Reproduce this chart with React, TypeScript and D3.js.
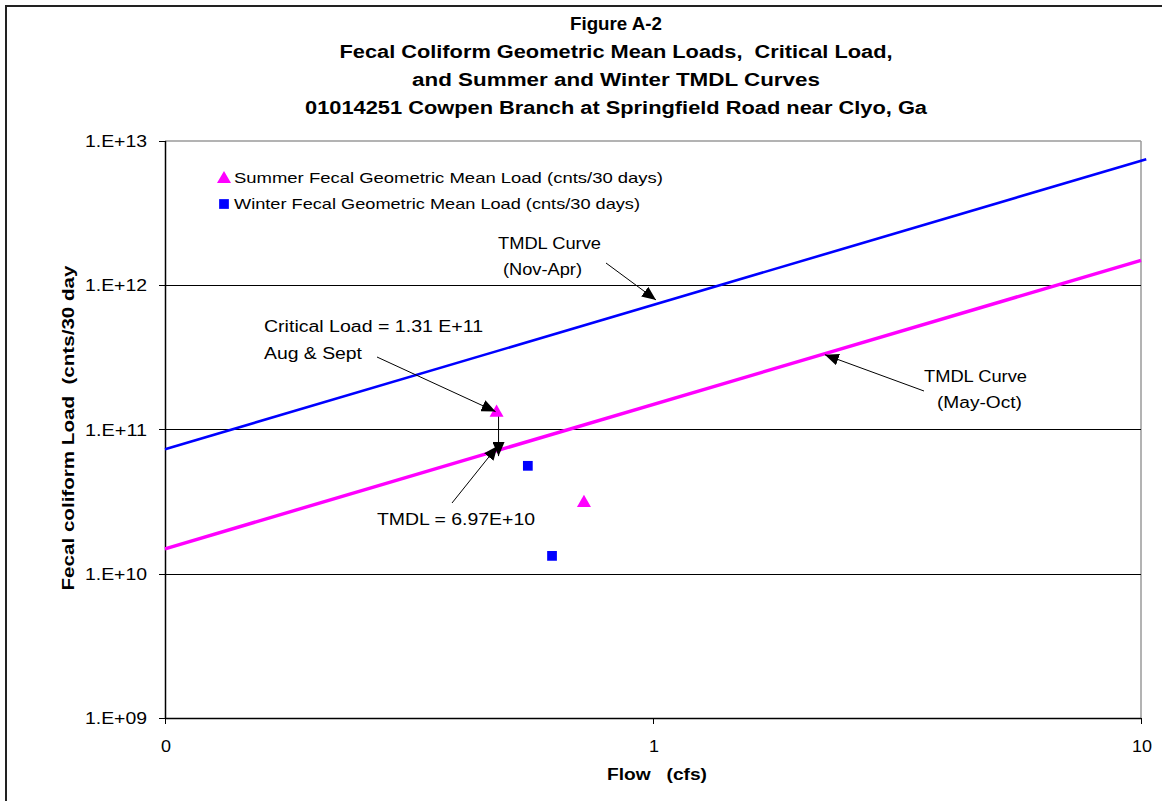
import React from "react";
import * as d3 from "d3";

const titleLines = [
  "Figure A-2",
  "Fecal Coliform Geometric Mean Loads,  Critical Load,",
  "and Summer and Winter TMDL Curves",
  "01014251 Cowpen Branch at Springfield Road near Clyo, Ga",
];
const titleWidths = [92, 553, 408, 622];

const yTickValues = [1e9, 1e10, 1e11, 1e12, 1e13];
const yTickLabels = ["1.E+09", "1.E+10", "1.E+11", "1.E+12", "1.E+13"];
const xTickValues = [0.1, 1, 10];
const xTickLabels = ["0", "1", "10"];

const summerFlow = [0.478, 0.722];
const summerLoad = [1.31e11, 3.1e10];
const winterFlow = [0.554, 0.621];
const winterLoad = [5.6e10, 1.33e10];

const summerCoef = 1.49e11; // load per cfs (May-Oct TMDL)
const winterCoef = 7.3e11; // load per cfs (Nov-Apr TMDL)
const summerCurveFlow = [0.1, 10];
const winterCurveFlow = [0.1, 10.25];

const criticalFlow = 0.478;
const criticalLoad = 1.31e11;
const tmdlLoad = 6.97e10;
const mayOctArrowFlow = 2.25;
const novAprArrowFlow = 1.0;

const FONT = "'Liberation Sans', Arial, sans-serif";

export default function App() {
  const W = 1162;
  const H = 801;
  const x = d3.scaleLog().domain([0.1, 10]).range([165, 1141]);
  const y = d3.scaleLog().domain([1e9, 1e13]).range([718, 141]);
  const line = d3
    .line<[number, number]>()
    .x((d) => x(d[0]))
    .y((d) => y(d[1]));

  const summerCurve = summerCurveFlow.map((q) => [q, summerCoef * q] as [number, number]);
  const winterCurve = winterCurveFlow.map((q) => [q, winterCoef * q] as [number, number]);

  const tri = d3.symbol().type(d3.symbolTriangle).size(85)();
  const sq = d3.symbol().type(d3.symbolSquare).size(95)();

  const critX = x(criticalFlow);
  const critY = y(criticalLoad);
  const tmdlY = y(tmdlLoad);
  const moX = x(mayOctArrowFlow);
  const moY = y(summerCoef * mayOctArrowFlow);
  const naX = x(novAprArrowFlow);
  const naY = y(winterCoef * novAprArrowFlow);

  const arrows: [number, number, number, number][] = [
    [377, 357, critX - 1, critY - 1],
    [critX + 2, critY + 4, critX + 2, tmdlY + 4],
    [452, 503, critX + 1, tmdlY - 6],
    [924, 391, moX, moY + 1],
    [606, 263, naX + 3, naY - 5],
  ];

  const txt = (
    s: string,
    tx: number,
    ty: number,
    len: number,
    size = 16,
    anchor: "start" | "middle" | "end" = "start",
    bold = false
  ) => (
    <text
      x={tx}
      y={ty}
      fontSize={size}
      fontFamily={FONT}
      fontWeight={bold ? "bold" : "normal"}
      textAnchor={anchor}
      textLength={len}
      lengthAdjust="spacingAndGlyphs"
      fill="#000"
      style={{ whiteSpace: "pre" }}
    >
      {s}
    </text>
  );

  return (
    <svg
      width={W}
      height={H}
      style={{ position: "absolute", left: 0, top: 0, background: "#fff" }}
    >
      <defs>
        <marker
          id="ah"
          viewBox="0 0 14 12"
          refX={14}
          refY={6}
          markerWidth={14}
          markerHeight={12}
          markerUnits="userSpaceOnUse"
          orient="auto"
        >
          <path d="M0,0 L14,6 L0,12 Z" fill="#000" />
        </marker>
      </defs>
      <rect x={0} y={0} width={W} height={H} fill="#fff" />
      {/* outer border */}
      <rect x={6} y={6} width={W + 20} height={H + 20} fill="none" stroke="#222" strokeWidth={2} />

      {/* title */}
      {titleLines.map((t, i) =>
        <g key={i}>{txt(t, 616, 30 + i * 28, titleWidths[i], 18, "middle", true)}</g>
      )}

      {/* plot border (gray top/right) */}
      <line x1={165} y1={141} x2={1141} y2={141} stroke="#9a9a9a" strokeWidth={1.5} />
      <line x1={1141} y1={141} x2={1141} y2={718} stroke="#9a9a9a" strokeWidth={1.5} />

      {/* gridlines */}
      {yTickValues.slice(1, 4).map((v) => (
        <line key={v} x1={165} x2={1141} y1={Math.round(y(v)) + 0.5} y2={Math.round(y(v)) + 0.5} stroke="#000" strokeWidth={1} />
      ))}

      {/* axes */}
      <line x1={165.5} y1={141} x2={165.5} y2={718} stroke="#000" strokeWidth={1.5} />
      <line x1={165} y1={718.5} x2={1141} y2={718.5} stroke="#000" strokeWidth={1.5} />
      {yTickValues.map((v, i) => (
        <g key={v}>
          <line x1={159} x2={165} y1={Math.round(y(v)) + 0.5} y2={Math.round(y(v)) + 0.5} stroke="#000" />
          {txt(yTickLabels[i], 147, y(v) + 6, 62, 16, "end")}
        </g>
      ))}
      {xTickValues.map((v, i) => (
        <g key={v}>
          <line x1={Math.round(x(v)) + 0.5} x2={Math.round(x(v)) + 0.5} y1={718} y2={724} stroke="#000" />
          {txt(xTickLabels[i], x(v) + 1, 752, xTickLabels[i].length * 10, 16, "middle")}
        </g>
      ))}

      {/* axis titles */}
      {txt("Flow   (cfs)", 657, 780, 100, 16, "middle", true)}
      <g transform="translate(74,428) rotate(-90)">
        {txt("Fecal coliform Load  (cnts/30 day", 0, 0, 325, 16, "middle", true)}
      </g>

      {/* TMDL curves */}
      <path d={line(winterCurve) || ""} fill="none" stroke="#0000ff" strokeWidth={2.6} />
      <path d={line(summerCurve) || ""} fill="none" stroke="#ff00ff" strokeWidth={3.4} />

      {/* points */}
      {summerFlow.map((q, i) => (
        <path key={"s" + i} d={tri || ""} transform={`translate(${x(q)},${y(summerLoad[i])})`} fill="#ff00ff" />
      ))}
      {winterFlow.map((q, i) => (
        <path key={"w" + i} d={sq || ""} transform={`translate(${x(q)},${y(winterLoad[i])})`} fill="#0000ff" />
      ))}

      {/* legend */}
      <path d={tri || ""} transform="translate(224,179)" fill="#ff00ff" />
      {txt("Summer Fecal Geometric Mean Load (cnts/30 days)", 234, 183, 429, 15)}
      <path d={sq || ""} transform="translate(224,204)" fill="#0000ff" />
      {txt("Winter Fecal Geometric Mean Load (cnts/30 days)", 234, 209, 406, 15)}

      {/* annotations */}
      {arrows.map((a, i) => (
        <line key={i} x1={a[0]} y1={a[1]} x2={a[2]} y2={a[3]} stroke="#000" strokeWidth={1} markerEnd="url(#ah)" />
      ))}
      {txt("Critical Load = 1.31 E+11", 264, 332, 219)}
      {txt("Aug & Sept", 264, 359, 98)}
      {txt("TMDL = 6.97E+10", 377, 525, 158)}
      {txt("TMDL Curve", 924, 382, 103)}
      {txt("(May-Oct)", 937, 408, 85)}
      {txt("TMDL Curve", 498, 249, 103)}
      {txt("(Nov-Apr)", 503, 275, 79)}
    </svg>
  );
}
